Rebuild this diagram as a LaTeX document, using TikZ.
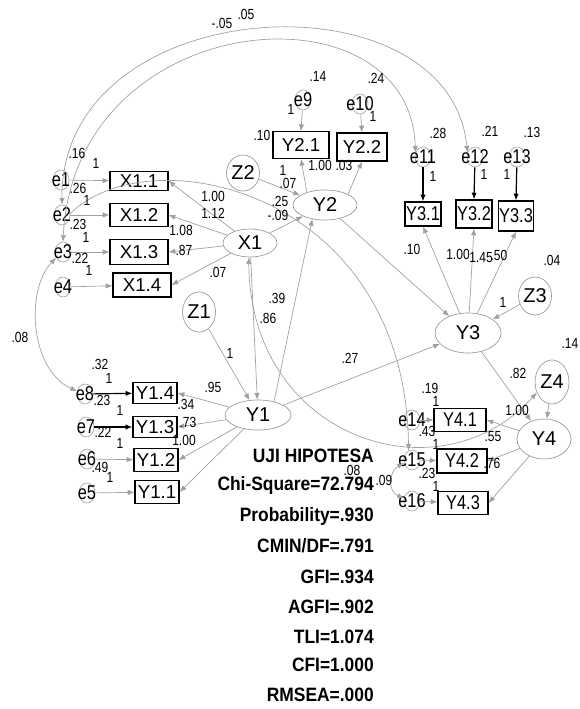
\documentclass[tikz,border=0pt]{standalone}
\usepackage{fontspec}
\setmainfont{Liberation Sans}
\newfontfamily\libn[FakeStretch=0.82]{Liberation Sans}
\newfontfamily\libb[FakeStretch=0.9]{Liberation Sans}
\usetikzlibrary{shapes.geometric,arrows.meta}
\begin{document}
\begin{tikzpicture}[x=0.75pt,y=-0.75pt,
  every node/.style={inner sep=0pt},
  box/.style={draw=black, line width=0.9pt, rectangle, font=\fontsize{14}{14}\selectfont},
  nbox/.style={box, font=\libn\fontsize{15}{15}\selectfont},
  lat/.style={ellipse, draw=gray!80, line width=0.5pt, font=\fontsize{15}{15}\selectfont},
  errc/.style={ellipse, draw=gray!70, line width=0.5pt, minimum width=12pt, minimum height=15pt},
  etxt/.style={font=\libn\fontsize{15}{15}\selectfont},
  lb/.style={font=\libn\fontsize{11}{11}\selectfont},
  pth/.style={draw=gray!75, line width=0.5pt, -{Latex[length=5pt,width=4pt]}},
  bpth/.style={draw=black, line width=0.9pt, -{Latex[length=5pt,width=4pt]}},
  cov/.style={draw=gray!75, line width=0.5pt, {Latex[length=5pt,width=4pt]}-{Latex[length=5pt,width=4pt]}},
  covr/.style={draw=gray!75, line width=0.5pt, -{Latex[length=5pt,width=4pt]}},
  stat/.style={anchor=east, font=\libb\bfseries\fontsize{14.5}{14.5}\selectfont}
]
\useasboundingbox[fill=white] (0,0) rectangle (579,709);

% ---------- latent variables ----------
\node[lat, minimum width=40.5pt, minimum height=21pt] (X1) at (250,243) {X1};
\node[lat, minimum width=48pt, minimum height=22.5pt] (Y2) at (325,205) {Y2};
\node[lat, minimum width=49.5pt, minimum height=22.5pt] (Y1) at (258,415) {Y1};
\node[lat, minimum width=49.5pt, minimum height=30pt] (Y3) at (468,333) {Y3};
\node[lat, minimum width=40.5pt, minimum height=30pt] (Y4) at (544,439) {Y4};
\node[lat, minimum width=24pt, minimum height=30pt] (Z1) at (199,312) {Z1};
\node[lat, minimum width=24pt, minimum height=27pt] (Z2) at (243,173) {Z2};
\node[lat, minimum width=24pt, minimum height=28.5pt] (Z3) at (535,296) {Z3};
\node[lat, minimum width=25.5pt, minimum height=33pt] (Z4) at (552,382) {Z4};

% ---------- observed variables ----------
\node[box, minimum width=43.5pt, minimum height=14pt] (X11) at (139,181) {X1.1};
\node[box, minimum width=43.5pt, minimum height=17pt] (X12) at (139,215) {X1.2};
\node[box, minimum width=43.5pt, minimum height=19pt] (X13) at (139,252) {X1.3};
\node[box, minimum width=43.5pt, minimum height=18pt] (X14) at (142,285) {X1.4};
\node[box, minimum width=33pt, minimum height=16pt] (Y14) at (155,393) {Y1.4};
\node[box, minimum width=33pt, minimum height=16pt] (Y13) at (155,427) {Y1.3};
\node[box, minimum width=33pt, minimum height=17pt] (Y12) at (156,460) {Y1.2};
\node[box, minimum width=33pt, minimum height=17pt] (Y11) at (157,492) {Y1.1};
\node[box, minimum width=42pt, minimum height=20pt] (Y21) at (301,145) {Y2.1};
\node[box, minimum width=37.5pt, minimum height=21pt] (Y22) at (362,147) {Y2.2};
\node[nbox, minimum width=27pt, minimum height=18pt] (Y31) at (423,214) {Y3.1};
\node[nbox, minimum width=27pt, minimum height=21pt] (Y32) at (474,214) {Y3.2};
\node[nbox, minimum width=26pt, minimum height=22.5pt] (Y33) at (516,216) {Y3.3};
\node[nbox, minimum width=39pt, minimum height=17pt] (Y41) at (460,420) {Y4.1};
\node[nbox, minimum width=37.5pt, minimum height=18pt] (Y42) at (462,461) {Y4.2};
\node[nbox, minimum width=37.5pt, minimum height=17pt] (Y43) at (463,503) {Y4.3};

% ---------- error terms ----------
\node[errc, label={[etxt]center:e1}] (e1) at (61,180) {};
\node[errc, label={[etxt]center:e2}] (e2) at (62,215) {};
\node[errc, label={[etxt]center:e3}] (e3) at (63,252) {};
\node[errc, label={[etxt]center:e4}] (e4) at (63,287) {};
\node[errc, label={[etxt]center:e8}] (e8) at (85,394) {};
\node[errc, label={[etxt]center:e7}] (e7) at (86,427) {};
\node[errc, label={[etxt]center:e6}] (e6) at (87,459) {};
\node[errc, label={[etxt]center:e5}] (e5) at (87,493) {};
\node[errc, label={[etxt]center:e9}] (e9) at (303,100) {};
\node[errc, label={[etxt]center:e10}] (e10) at (360,104) {};
\node[errc, label={[etxt]center:e11}] (e11) at (423,157) {};
\node[errc, label={[etxt]center:e12}] (e12) at (475,157) {};
\node[errc, label={[etxt]center:e13}] (e13) at (517,157) {};
\node[errc, label={[etxt]center:e14}] (e14) at (412,420) {};
\node[errc, label={[etxt]center:e15}] (e15) at (412,460) {};
\node[errc, label={[etxt]center:e16}] (e16) at (412,501) {};

% ---------- paths ----------
\draw[pth] (e1) -- (X11);
\draw[pth] (e2) -- (X12);
\draw[pth] (e3) -- (X13);
\draw[pth] (e4) -- (X14);
\draw[pth] (X1) -- (X11.east);
\draw[pth] (X1) -- (X12.east);
\draw[pth] (X1) -- (X13.east);
\draw[pth] (X1) -- (X14.east);
\draw[bpth] (e8) -- (Y14);
\draw[bpth] (e7) -- (Y13);
\draw[pth] (e6) -- (Y12);
\draw[pth] (e5) -- (Y11);
\draw[pth] (Y1) -- (Y14.east);
\draw[pth] (Y1) -- (Y13.east);
\draw[pth] (Y1) -- (Y12.east);
\draw[pth] (Y1) -- (Y11.east);
\draw[pth] (Z1) -- (Y1);
\draw[pth] (X1) -- (Y1);
\draw[pth] (X1) -- (Y2);
\draw[pth] (Z2) -- (Y2);
\draw[pth] (Y1.40) -- (Y2.228);
\draw[pth] (Y2.145) -- (Y21.south);
\draw[pth] (Y2.25) -- (Y22.south);
\draw[pth] (e9) -- (Y21.north);
\draw[pth] (e10) -- (Y22.north);
\draw[bpth] (e11) -- (Y31.north);
\draw[bpth] (e12) -- (Y32.north);
\draw[bpth] (e13) -- (Y33.north);
\draw[pth] (Y3) -- (Y31.south);
\draw[pth] (Y3) -- (Y32.south);
\draw[pth] (Y3) -- (Y33.south);
\draw[pth] (Z3) -- (Y3);
\draw[pth] (Y2) -- (Y3);
\draw[pth] (Y1) -- (Y3);
\draw[pth] (Y3) -- (Y4);
\draw[pth] (Z4) -- (Y4);
\draw[pth] (Y4) -- (Y41.east);
\draw[pth] (Y4) -- (Y42.east);
\draw[pth] (Y4) -- (Y43.east);
\draw[pth] (e14) -- (Y41);
\draw[pth] (e15) -- (Y42);
\draw[pth] (e16) -- (Y43);

% ---------- covariances ----------
\draw[cov] (e2.north) .. controls (60,-10) and (450,-30) .. (e12.150);
\draw[cov] (e3.north) .. controls (75,5) and (410,-20) .. (e11.150);
\draw[cov] (e3.220) .. controls (25,290) and (30,370) .. (e8.160);
\draw[covr] (e2.10) .. controls (150,135) and (405,190) .. (e15.110);
\draw[cov] (X1.265) .. controls (250,440) and (440,500) .. (Z4.215);
\draw[cov] (e15.200) .. controls (388,472) and (388,492) .. (e16.160);

% ---------- estimates ----------
\node[lb] (l01) at (222,23) {-.05};
\node[lb] (l02) at (246,14) {.05};
\node[lb] (l03) at (77,153) {.16};
\node[lb] (l04) at (96,163) {1};
\node[lb] (l05) at (78,188) {.26};
\node[lb] (l06) at (87,200) {1};
\node[lb] (l07) at (78,224) {.23};
\node[lb] (l08) at (86,237) {1};
\node[lb] (l09) at (80,258) {.22};
\node[lb] (l10) at (89,270) {1};
\node[lb] (l11) at (213,196) {1.00};
\node[lb] (l12) at (213,213) {1.12};
\node[lb] (l13) at (181,230) {1.08};
\node[lb] (l14) at (184,250) {.87};
\node[lb] (l15) at (218,272) {.07};
\node[lb] (l16) at (283,170) {1};
\node[lb] (l17) at (288,183) {.07};
\node[lb] (l18) at (280,201) {.25};
\node[lb] (l19) at (278,215) {-.09};
\node[lb] (l20) at (262,135) {.10};
\node[lb] (l21) at (318,76) {.14};
\node[lb] (l22) at (376,78) {.24};
\node[lb] (l23) at (291,109) {1};
\node[lb] (l24) at (373,116) {1};
\node[lb] (l25) at (320,165) {1.00};
\node[lb] (l26) at (344,165) {.03};
\node[lb] (l27) at (438,133) {.28};
\node[lb] (l28) at (490,131) {.21};
\node[lb] (l29) at (532,132) {.13};
\node[lb] (l30) at (433,176) {1};
\node[lb] (l31) at (484,174) {1};
\node[lb] (l32) at (507,174) {1};
\node[lb] (l33) at (412,249) {.10};
\node[lb] (l34) at (458,254) {1.00};
\node[lb] (l35) at (481,258) {1.45};
\node[lb] (l36) at (499,255) {.50};
\node[lb] (l37) at (552,260) {.04};
\node[lb] (l38) at (503,302) {1};
\node[lb] (l39) at (230,353) {1};
\node[lb] (l40) at (213,387) {.95};
\node[lb] (l41) at (277,298) {.39};
\node[lb] (l42) at (268,318) {.86};
\node[lb] (l43) at (20,337) {.08};
\node[lb] (l44) at (100,364) {.32};
\node[lb] (l45) at (109,378) {1};
\node[lb] (l46) at (102,400) {.23};
\node[lb] (l47) at (120,410) {1};
\node[lb] (l48) at (103,432) {.22};
\node[lb] (l49) at (120,443) {1};
\node[lb] (l50) at (100,467) {.49};
\node[lb] (l51) at (110,477) {1};
\node[lb] (l52) at (186,404) {.34};
\node[lb] (l53) at (188,422) {.73};
\node[lb] (l54) at (184,440) {1.00};
\node[lb] (l55) at (350,358) {.27};
\node[lb] (l56) at (570,343) {.14};
\node[lb] (l57) at (518,373) {.82};
\node[lb] (l58) at (517,410) {1.00};
\node[lb] (l59) at (493,437) {.55};
\node[lb] (l60) at (492,463) {.76};
\node[lb] (l61) at (430,388) {.19};
\node[lb] (l62) at (436,401) {1};
\node[lb] (l63) at (427,431) {.43};
\node[lb] (l64) at (436,444) {1};
\node[lb] (l65) at (427,473) {.23};
\node[lb] (l66) at (436,486) {1};
\node[lb] (l67) at (352,470) {.08};
\node[lb] (l68) at (384,480) {.09};

% ---------- fit statistics ----------
\node[stat] (s1) at (374,456) {UJI HIPOTESA};
\node[stat] (s2) at (374,485) {Chi-Square=72.794};
\node[stat] (s3) at (374,516) {Probability=.930};
\node[stat] (s4) at (374,546) {CMIN/DF=.791};
\node[stat] (s5) at (374,577) {GFI=.934};
\node[stat] (s6) at (374,607) {AGFI=.902};
\node[stat] (s7) at (374,637) {TLI=1.074};
\node[stat] (s8) at (374,665) {CFI=1.000};
\node[stat] (s9) at (374,695) {RMSEA=.000};
\end{tikzpicture}
\end{document}
